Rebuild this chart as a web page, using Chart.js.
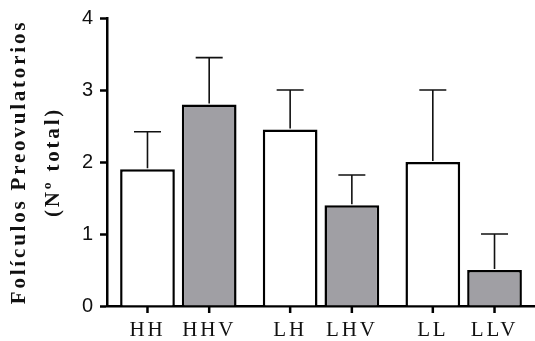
<!DOCTYPE html>
<html>
<head>
<meta charset="utf-8">
<script src="https://cdn.jsdelivr.net/npm/chart.js@4/dist/chart.umd.min.js"></script>
<style>
  html, body { margin: 0; padding: 0; background: #fff; }
</style>
</head>
<body>
<canvas id="chart" width="535" height="341"></canvas>
<script>
// data
const groups = ['H', 'LH', 'L'];
const plainLabels = ['HH', 'LH', 'LL'];
const vLabels = ['HHV', 'LHV', 'LLV'];
const plainMeans = [1.9, 2.45, 2.0];
const plainErr = [0.52, 0.55, 1.0];
const vMeans = [2.8, 1.4, 0.5];
const vErr = [0.65, 0.42, 0.5];
const yTicks = [0, 1, 2, 3, 4];

const barLabels = [plainLabels, vLabels];
const barErrors = [plainErr, vErr];

// spaced-out letters, like the original figure
const spacing = {
  id: 'spacing',
  beforeDraw(chart) {
    chart.ctx.letterSpacing = '2.8px';
  }
};

// upper error bars + per-bar tick marks and labels
const extras = {
  id: 'extras',
  afterDatasetsDraw(chart) {
    const ctx = chart.ctx;
    const yScale = chart.scales.y;
    const bottom = chart.chartArea.bottom;
    ctx.save();
    chart.data.datasets.forEach((ds, di) => {
      const meta = chart.getDatasetMeta(di);
      meta.data.forEach((bar, i) => {
        const top = yScale.getPixelForValue(ds.data[i] + barErrors[di][i]);
        ctx.strokeStyle = '#111';
        ctx.lineWidth = 1.6;
        ctx.beginPath();
        ctx.moveTo(bar.x, bar.y - 1);
        ctx.lineTo(bar.x, top);
        ctx.moveTo(bar.x - 13.5, top);
        ctx.lineTo(bar.x + 13.5, top);
        ctx.stroke();

        ctx.lineWidth = 2.5;
        ctx.strokeStyle = '#000';
        ctx.beginPath();
        ctx.moveTo(bar.x, bottom);
        ctx.lineTo(bar.x, bottom + 7);
        ctx.stroke();

        ctx.fillStyle = '#111';
        ctx.font = '21px "Liberation Serif", "Times New Roman", serif';
        ctx.textAlign = 'center';
        ctx.textBaseline = 'middle';
        ctx.fillText(barLabels[di][i], bar.x, bottom + 24);
      });
    });
    ctx.restore();
  }
};

new Chart(document.getElementById('chart'), {
  type: 'bar',
  data: {
    labels: groups,
    datasets: [
      {
        data: plainMeans,
        backgroundColor: '#ffffff',
        borderColor: '#000',
        borderWidth: 2.5,
        borderSkipped: 'start',
        categoryPercentage: 0.865,
        barPercentage: 0.887
      },
      {
        data: vMeans,
        backgroundColor: '#a09fa4',
        borderColor: '#000',
        borderWidth: 2.5,
        borderSkipped: 'start',
        categoryPercentage: 0.865,
        barPercentage: 0.887
      }
    ]
  },
  options: {
    responsive: false,
    animation: false,
    layout: { padding: { top: 18, right: -2, bottom: 0, left: 0 } },
    plugins: {
      legend: { display: false },
      tooltip: { enabled: false }
    },
    scales: {
      x: {
        grid: { display: false },
        ticks: { display: false },
        border: { display: true, color: '#000', width: 2.5 },
        afterFit(scale) { scale.height = 35; }
      },
      y: {
        min: 0,
        max: 4,
        afterBuildTicks(scale) { scale.ticks = yTicks.map(v => ({ value: v })); },
        grid: { drawOnChartArea: false, tickLength: 7, tickWidth: 2.5, color: '#000' },
        border: { display: true, color: '#000', width: 2.5 },
        ticks: {
          color: '#111',
          padding: 4,
          font: { family: '"Liberation Sans", Arial, sans-serif', size: 20 }
        },
        title: {
          display: true,
          text: ['Folículos Preovulatorios', '(Nº total)'],
          color: '#111',
          padding: { top: 3, bottom: 0 },
          font: { family: '"Liberation Serif", "Times New Roman", serif', size: 21, weight: 'bold', lineHeight: 1.6 }
        },
        afterFit(scale) { scale.width = 107; }
      }
    }
  },
  plugins: [spacing, extras]
});
</script>
</body>
</html>
